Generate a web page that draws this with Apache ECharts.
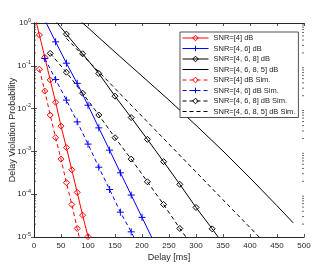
<!DOCTYPE html>
<html>
<head>
<meta charset="utf-8">
<script src="https://cdn.jsdelivr.net/npm/echarts@6/dist/echarts.min.js"></script>
<style>html,body{margin:0;padding:0;background:#fff}#c{width:328px;height:270px}</style>
</head>
<body>
<div id="c"></div>
<script>
// ---- data ----
const xTicks = [0, 50, 100, 150, 200, 250, 300, 350, 400, 450, 500];
const yTicks = [1e-5, 1e-4, 1e-3, 1e-2, 1e-1, 1];

const names = [
  'SNR=[4] dB', 'SNR=[4, 6] dB', 'SNR=[4, 6, 8] dB', 'SNR=[4, 6, 8, 5] dB',
  'SNR=[4] dB Sim.', 'SNR=[4, 6] dB Sim.', 'SNR=[4, 6, 8] dB Sim.', 'SNR=[4, 6, 8, 5] dB Sim.'
];

const snr4X = [0, 10, 20, 30, 40, 50, 60, 70, 80, 90, 100];
const snr4Y = [1.74, 0.525, 0.158, 0.0468, 0.0141, 0.00389, 0.00123, 3.72e-4, 1.10e-4, 3.24e-5, 1.02e-5];

const snr46X = [20, 40, 60, 80, 100, 120, 140, 160, 180, 200, 220];
const snr46Y = [1.17, 0.363, 0.115, 0.0389, 0.0120, 0.00355, 0.00107, 3.16e-4, 9.55e-5, 2.88e-5, 8.7e-6];

const snr468X = [30, 60, 90, 120, 150, 180, 210, 240, 270, 300, 330, 360];
const snr468Y = [1.58, 0.550, 0.191, 0.0661, 0.0195, 0.00617, 0.00191, 5.75e-4, 1.70e-4, 4.90e-5, 1.55e-5, 4.7e-6];

const snr4685X = [80, 100, 150, 200, 250, 300, 350, 400, 450, 480];
const snr4685Y = [1.29, 0.776, 0.209, 0.0575, 0.0158, 0.00407, 0.00102, 2.40e-4, 5.37e-5, 2.14e-5];

const sim4X = [10, 20, 30, 40, 50, 60, 70, 80, 90];
const sim4Y = [0.0832, 0.0257, 0.00708, 0.00209, 6.61e-4, 1.86e-4, 5.75e-5, 1.58e-5, 4.7e-6];

const sim46X = [20, 40, 60, 80, 100, 120, 140, 160, 180, 200];
const sim46Y = [0.148, 0.0479, 0.0158, 0.0049, 0.00148, 4.27e-4, 1.29e-4, 3.80e-5, 1.32e-5, 4.0e-6];

const sim468X = [30, 60, 90, 120, 150, 180, 210, 240, 270, 300];
const sim468Y = [0.195, 0.0708, 0.0229, 0.00708, 0.00209, 6.61e-4, 1.95e-4, 5.75e-5, 1.58e-5, 4.7e-6];

const sim4685X = [60, 100, 150, 200, 250, 300, 350, 400, 420];
const sim4685Y = [0.437, 0.132, 0.0295, 0.00661, 0.00148, 3.31e-4, 7.41e-5, 1.66e-5, 9.1e-6];

// ---- build ----
const zip = (xs, ys) => xs.map((x, i) => [x, ys[i]]);
const AX = '#262626';
const FONT = '"Liberation Sans", Arial, sans-serif';
const PLUS = 'path://M0,5L10,5M5,0L5,10';

function mk(name, xs, ys, color, dashed, symbol) {
  return {
    name, type: 'line', data: zip(xs, ys), clip: true,
    showSymbol: symbol !== 'none', symbol: symbol, symbolSize: symbol === PLUS ? 7 : 6,
    lineStyle: { color, width: 1, type: dashed ? [4, 3] : 'solid' },
    itemStyle: { color: 'transparent', borderColor: color, borderWidth: 1 },
    emphasis: { disabled: true }, animation: false, z: 3
  };
}

const noMarker = { 'SNR=[4, 6, 8, 5] dB': true, 'SNR=[4, 6, 8, 5] dB Sim.': true };
const legendData = names.map(n => noMarker[n]
  ? { name: n, itemStyle: { color: 'transparent', borderColor: 'transparent', borderWidth: 0, opacity: 0 } }
  : { name: n });

const minorVals = [];
for (let e = -5; e < 0; e++) for (let m = 2; m <= 9; m++) minorVals.push([0, m * Math.pow(10, e)]);

const chart = echarts.init(document.getElementById('c'), null, { renderer: 'canvas' });
chart.setOption({
  animation: false,
  backgroundColor: '#fff',
  textStyle: { fontFamily: FONT },
  grid: { left: 34, right: 24, top: 23, bottom: 33, containLabel: false, outerBoundsMode: 'none' },
  xAxis: [{
    type: 'value', min: 0, max: 500, interval: 50,
    name: 'Delay [ms]', nameLocation: 'middle', nameGap: 16, nameMoveOverlap: false,
    nameTextStyle: { fontSize: 9, color: AX, fontFamily: FONT },
    axisLine: { show: true, lineStyle: { color: AX, width: 1 } },
    axisTick: { inside: true, length: 3, lineStyle: { color: AX, width: 0.8 } },
    axisLabel: { fontSize: 8, color: AX, margin: 5, fontFamily: FONT },
    splitLine: { show: false }
  }, {
    type: 'value', min: 0, max: 500, interval: 50, position: 'top',
    axisLine: { show: true, lineStyle: { color: AX, width: 1 } },
    axisTick: { inside: true, length: 3, lineStyle: { color: AX, width: 0.8 } },
    axisLabel: { show: false }, splitLine: { show: false }
  }],
  yAxis: [{
    type: 'log', logBase: 10, min: 1e-5, max: 1,
    name: 'Delay Violation Probability', nameLocation: 'middle', nameGap: 17, nameMoveOverlap: false,
    nameTextStyle: { fontSize: 9, color: AX, fontFamily: FONT },
    axisLine: { show: true, lineStyle: { color: AX, width: 1 } },
    axisTick: { inside: true, length: 3, lineStyle: { color: AX, width: 0.8 } },
    axisLabel: {
      margin: 3, color: AX, fontFamily: FONT,
      formatter: v => '{b|10}{s|' + Math.round(Math.log10(v)) + '}',
      rich: {
        b: { fontSize: 8, lineHeight: 12, color: AX, fontFamily: FONT },
        s: { fontSize: 5.5, lineHeight: 5.5, verticalAlign: 'top', color: AX, fontFamily: FONT }
      }
    },
    splitLine: { show: false }
  }, {
    type: 'log', logBase: 10, min: 1e-5, max: 1, position: 'right',
    axisLine: { show: true, lineStyle: { color: AX, width: 1 } },
    axisTick: { inside: true, length: 3, lineStyle: { color: AX, width: 0.8 } },
    axisLabel: { show: false }, splitLine: { show: false }
  }],
  legend: {
    data: legendData, orient: 'vertical', left: 180, top: 32,
    itemWidth: 26, itemHeight: 7, itemGap: 2.5,
    padding: [2, 3, 2, 2],
    backgroundColor: '#fff', borderColor: AX, borderWidth: 0.8,
    textStyle: { fontSize: 7.5, color: AX, fontFamily: FONT },
    itemStyle: { color: 'transparent', borderWidth: 1 },
    lineStyle: { width: 1 },
    selectedMode: false
  },
  series: [
    mk(names[0], snr4X, snr4Y, '#ff0000', false, 'diamond'),
    mk(names[1], snr46X, snr46Y, '#0000ff', false, PLUS),
    mk(names[2], snr468X, snr468Y, '#000000', false, 'diamond'),
    mk(names[3], snr4685X, snr4685Y, '#000000', false, 'none'),
    mk(names[4], sim4X, sim4Y, '#ff0000', true, 'diamond'),
    mk(names[5], sim46X, sim46Y, '#0000ff', true, PLUS),
    mk(names[6], sim468X, sim468Y, '#000000', true, 'diamond'),
    mk(names[7], sim4685X, sim4685Y, '#000000', true, 'none'),
    {
      type: 'custom', data: minorVals, silent: true, z: 4, clip: false,
      renderItem: (params, api) => {
        const y = api.coord([0, api.value(1)])[1];
        const cs = params.coordSys;
        return {
          type: 'group', children: [
            { type: 'line', shape: { x1: cs.x, y1: y, x2: cs.x + 2, y2: y }, style: { stroke: AX, lineWidth: 0.7 } },
            { type: 'line', shape: { x1: cs.x + cs.width - 2, y1: y, x2: cs.x + cs.width, y2: y }, style: { stroke: AX, lineWidth: 0.7 } }
          ]
        };
      }
    }
  ]
});
</script>
</body>
</html>
